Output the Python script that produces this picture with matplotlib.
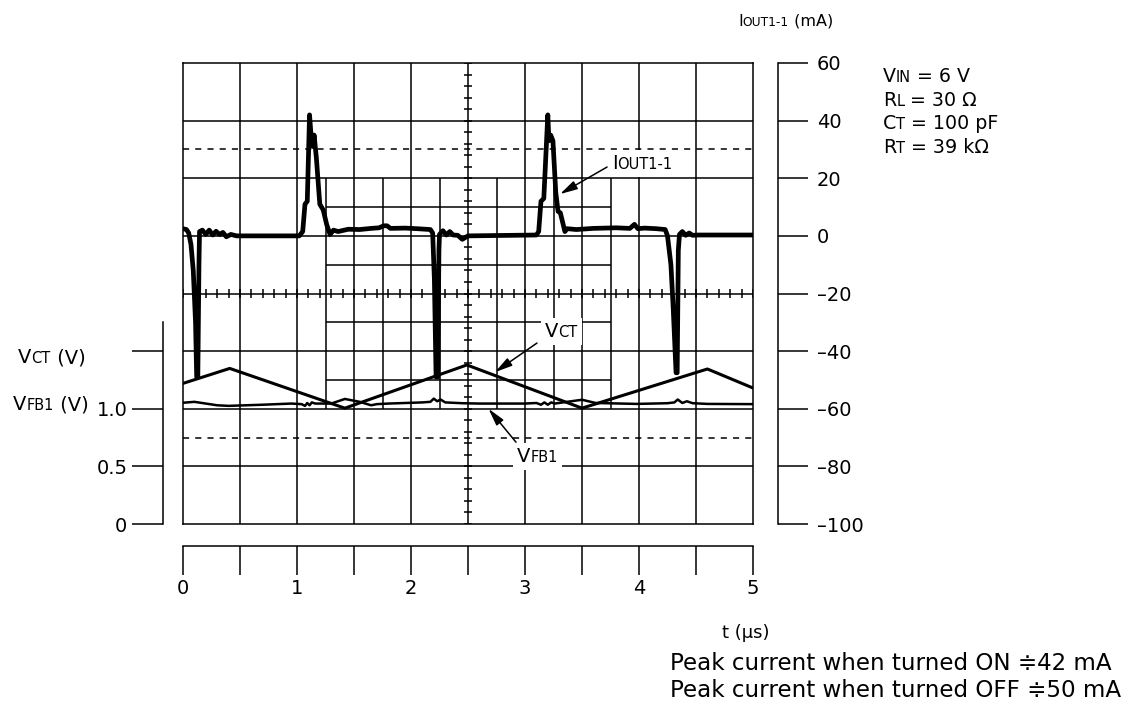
import numpy as np
import matplotlib
matplotlib.use("Agg")
import matplotlib.pyplot as plt
from matplotlib.patches import Rectangle
from matplotlib.transforms import Bbox

W, H = 1142, 708

# I_OUT1-1 trace (t in us, current in mA)
iout_t = [0.00, 0.03, 0.05, 0.07, 0.09, 0.11, 0.12, 0.13, 0.14, 0.145, 0.17, 0.20,
          0.23, 0.26, 0.29, 0.32, 0.35, 0.38, 0.42, 0.47, 1.02, 1.05, 1.07, 1.09,
          1.11, 1.125, 1.14, 1.15, 1.17, 1.20, 1.23, 1.26, 1.29, 1.32, 1.36, 1.45,
          1.55, 1.65, 1.72, 1.76, 1.79, 1.82, 1.95, 2.05, 2.17, 2.19, 2.205, 2.22,
          2.235, 2.245, 2.25, 2.28, 2.31, 2.34, 2.37, 2.41, 2.45, 2.5, 3.10, 3.12,
          3.14, 3.165, 3.20, 3.21, 3.225, 3.245, 3.27, 3.29, 3.31, 3.35, 3.37, 3.45,
          3.6, 3.8, 3.92, 3.96, 3.99, 4.05, 4.15, 4.23, 4.25, 4.28, 4.30, 4.325,
          4.335, 4.345, 4.355, 4.38, 4.41, 4.44, 4.47, 4.52, 5.0]
iout_ma = [2.5, 2.2, 1.0, -3, -12, -30, -49, -49, -10, 1.5, 2.0, 0.5,
           2.0, 0.3, 1.6, 0.5, 1.2, -0.3, 0.5, 0.0, 0.0, 1.5, 11, 12,
           42, 34, 31, 35, 27, 11, 9, 4, 0.5, 2.0, 1.5, 2.3,
           2.2, 2.6, 2.8, 3.5, 3.5, 2.6, 2.7, 2.5, 2.2, 1.0, -15, -49,
           -49, -5, 0.5, 1.8, 0.3, 1.5, 0.3, 0.2, -1.2, 0.0, 0.3, 1.5,
           12, 13, 42, 33, 35, 33, 15, 8.5, 8, 1.5, 2.5, 2.2,
           2.6, 2.8, 2.6, 4.0, 2.5, 2.7, 2.5, 2.2, 0.0, -10, -25, -47.5,
           -47.5, -5, 0.5, 1.5, 0.2, 1.0, 0.2, 0.3, 0.3]

# V_CT triangle (V)
vct_t = [0.0, 0.41, 1.42, 2.49, 3.50, 4.60, 5.0]
vct_v = [1.22, 1.35, 1.005, 1.38, 1.005, 1.345, 1.18]

# V_FB1 (V)
vfb_t = [0.00, 0.10, 0.30, 0.40, 0.70, 0.95, 1.04, 1.07, 1.09, 1.11, 1.13, 1.16,
         1.30, 1.42, 1.55, 1.65, 1.70, 1.80, 2.10, 2.17, 2.20, 2.23, 2.26, 2.30,
         2.45, 2.60, 3.00, 3.10, 3.14, 3.17, 3.20, 3.23, 3.26, 3.50, 3.62, 3.98,
         4.25, 4.31, 4.34, 4.38, 4.42, 4.47, 4.60, 5.00]
vfb_v = [1.052, 1.06, 1.03, 1.025, 1.035, 1.045, 1.04, 1.025, 1.05, 1.03, 1.055, 1.045,
         1.045, 1.085, 1.06, 1.03, 1.04, 1.045, 1.055, 1.06, 1.088, 1.065, 1.08, 1.055,
         1.048, 1.045, 1.045, 1.05, 1.035, 1.055, 1.035, 1.055, 1.045, 1.078, 1.05, 1.042,
         1.048, 1.055, 1.08, 1.05, 1.065, 1.048, 1.042, 1.04]

cur_ticks = [60, 40, 20, 0, -20, -40, -60, -80, -100]
cur_labels = ["60", "40", "20", "0", "–20", "–40", "–60", "–80", "–100"]
volt_ticks = [0, 0.5, 1.0, 1.5]
volt_labels = ["0", "0.5", "1.0", ""]
time_ticks = [0, 0.5, 1, 1.5, 2, 2.5, 3, 3.5, 4, 4.5, 5]
time_labels = ["0", "", "1", "", "2", "", "3", "", "4", "", "5"]
conditions = [("V", "IN", " = 6 V"), ("R", "L", " = 30 Ω"),
              ("C", "T", " = 100 pF"), ("R", "T", " = 39 kΩ")]
peak_notes = ["Peak current when turned ON ≑42 mA",
              "Peak current when turned OFF ≑50 mA"]

LW = 1.1


def rect(x0, y0, x1, y1):
    # pixel box (top-left origin) -> figure fraction
    return [x0 / W, 1 - y1 / H, (x1 - x0) / W, (y1 - y0) / H]


fig = plt.figure(figsize=(W / 100, H / 100), dpi=100)
renderer = fig.canvas.get_renderer()


def rich(x, y, parts, size=14, sub=10.5, bg=False):
    # parts: list of (text, is_small); x = left edge, y = baseline (pixels from top)
    boxes = []
    for s, small in parts:
        t = fig.text(x / W, 1 - y / H, s, fontsize=sub if small else size,
                     ha="left", va="baseline", zorder=5)
        bb = t.get_window_extent(renderer)
        boxes.append(bb)
        x = bb.x1
    if bg:
        bb = Bbox.union(boxes).expanded(1, 1).padded(4)
        fig.patches.append(Rectangle((bb.x0 / W, bb.y0 / H), bb.width / W, bb.height / H,
                                     transform=fig.transFigure, fc="white", ec="none",
                                     zorder=4))


# main graticule
ax = fig.add_axes(rect(183, 63, 753, 524))
ax.set_xlim(0, 5)
ax.set_ylim(-100, 60)
ax.set_xticks([])
ax.set_yticks([])
for sp in ax.spines.values():
    sp.set_linewidth(LW)

ax.vlines(np.arange(0.5, 5, 0.5), -100, 60, color="black", lw=LW)
ax.hlines(np.arange(-80, 60, 20), 0, 5, color="black", lw=LW)
ax.vlines(np.arange(1.25, 3.8, 0.5), -60, 20, color="black", lw=LW)
ax.hlines([-50, -30, -10, 10], 1.25, 3.75, color="black", lw=LW)
ax.hlines(np.arange(-100, 61, 4), 2.5 - 0.037, 2.5 + 0.037, color="black", lw=LW)
ax.vlines(np.arange(0, 5.01, 0.1), -21.6, -18.4, color="black", lw=LW)
ax.hlines([30, -70], 0, 5, color="black", lw=LW, linestyles=(0, (4, 4)))

ax.plot(iout_t, iout_ma, color="black", lw=3.4, solid_joinstyle="round")

axv = ax.twinx()
axv.set_ylim(0, 4)
axv.axis("off")
axv.plot(vct_t, vct_v, color="black", lw=2.2)
axv.plot(vfb_t, vfb_v, color="black", lw=1.8)

arrow = dict(arrowstyle="-|>,head_length=0.7,head_width=0.18", color="black",
             lw=1.1, mutation_scale=15, shrinkA=0, shrinkB=0)
ax.annotate("", xy=(3.307, 14.5), xytext=(3.72, 23.9), arrowprops=arrow)
ax.annotate("", xy=(2.737, -47.3), xytext=(3.105, -37.2), arrowprops=arrow)
ax.annotate("", xy=(2.68, -60.0), xytext=(2.921, -71.6), arrowprops=arrow)

# right current scale
axr = fig.add_axes(rect(777, 63, 778, 524))
axr.patch.set_visible(False)
axr.set_ylim(-100, 60)
axr.set_xticks([])
for side in ("left", "top", "bottom"):
    axr.spines[side].set_visible(False)
axr.spines["right"].set_linewidth(LW)
axr.yaxis.tick_right()
axr.set_yticks(cur_ticks, cur_labels)
axr.tick_params(axis="y", direction="out", length=21.6, width=LW, pad=6.5, labelsize=14)

# left voltage scale
axl = fig.add_axes(rect(163, 524 - 1.75 * 115.25, 164, 524))
axl.patch.set_visible(False)
axl.set_ylim(0, 1.75)
axl.set_xticks([])
for side in ("right", "top", "bottom"):
    axl.spines[side].set_visible(False)
axl.spines["left"].set_linewidth(LW)
axl.set_yticks(volt_ticks, volt_labels)
axl.tick_params(axis="y", direction="out", length=22.3, width=LW, pad=3.3, labelsize=14)

# time scale
axb = fig.add_axes(rect(183, 545, 753, 546))
axb.patch.set_visible(False)
axb.set_xlim(0, 5)
axb.set_yticks([])
for side in ("left", "right", "top"):
    axb.spines[side].set_visible(False)
axb.spines["bottom"].set_linewidth(LW)
axb.set_xticks(time_ticks, time_labels)
axb.tick_params(axis="x", direction="out", length=21, width=LW, pad=3, labelsize=14)

# labels
rich(738, 26, [("I", False), ("OUT1-1", True), (" (mA)", False)], size=11.5, sub=8.8)
rich(18, 363, [("V", False), ("CT", True), (" (V)", False)])
rich(13, 410, [("V", False), ("FB1", True), (" (V)", False)])
rich(612, 169, [("I", False), ("OUT1-1", True)], bg=True)
rich(545, 337, [("V", False), ("CT", True)], bg=True)
rich(517, 462, [("V", False), ("FB1", True)], bg=True)
for i, (main, sub, rest) in enumerate(conditions):
    rich(883, 82 + i * 23.7, [(main, False), (sub, True), (rest, False)], size=13.7)

fig.text(722 / W, 1 - 638 / H, "t (µs)", fontsize=13, va="baseline")
for i, note in enumerate(peak_notes):
    fig.text(670 / W, 1 - (670 + i * 27) / H, note, fontsize=16.6, va="baseline")

fig.savefig("out.png", dpi=100)
